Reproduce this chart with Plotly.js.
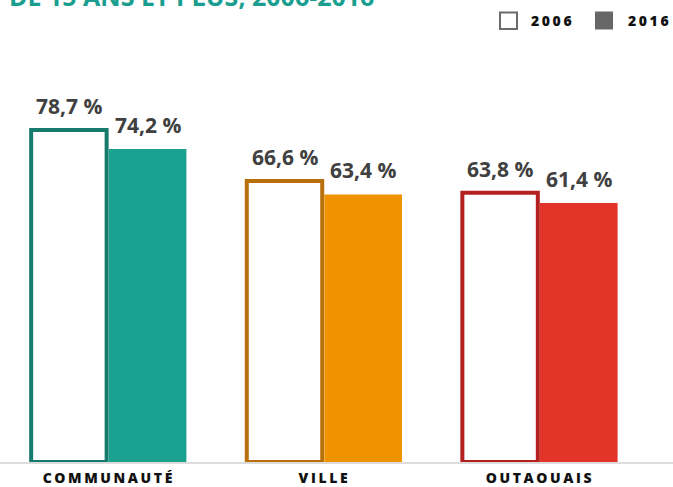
<!DOCTYPE html>
<html>
<head>
<meta charset="utf-8">
<script src="https://cdn.plot.ly/plotly-3.0.1.min.js"></script>
<style>html,body{margin:0;padding:0;background:#fff;}#chart{width:673px;height:487px;}</style>
</head>
<body>
<div id="chart"></div>
<script>
// ---- data ----
const categories = ["COMMUNAUTÉ", "VILLE", "OUTAOUAIS"];
const seriesNames = ["2006", "2016"];
const values2006 = [78.7, 66.6, 63.8];
const values2016 = [74.2, 63.4, 61.4];
const titleText = "DE 15 ANS ET PLUS, 2006-2016";

// ---- styles ----
const outlineColors = ["#167a6d", "#b8700c", "#b3201f"];
const fillColors = ["#1aa190", "#f09300", "#e3342a"];
const labelColor = "#404040";
const xs = categories.map((c, i) => i);
const fmt = v => v.toFixed(1).replace(".", ",") + "\u00a0%";
const spaced = t => '<span style="letter-spacing:2.6px">' + t + '</span>';

const w2006 = 0.35, off2006 = -0.36, w2016 = 0.36, off2016 = 0;

const traces = [
  {
    type: "bar", name: seriesNames[0], x: xs, y: values2006,
    width: w2006, offset: off2006,
    marker: { color: "#ffffff", line: { color: outlineColors, width: 4 } },
    hoverinfo: "none"
  },
  {
    type: "bar", name: seriesNames[1], x: xs, y: values2016,
    width: w2016, offset: off2016,
    marker: { color: fillColors, line: { width: 0 } },
    hoverinfo: "none"
  }
];

const annotations = [];
values2006.forEach((v, i) => annotations.push({
  x: i + off2006 + w2006 / 2, y: v, xref: "x", yref: "y",
  text: fmt(v), showarrow: false, yanchor: "bottom", yshift: 8,
  font: { family: "Open Sans", size: 21, color: labelColor, weight: 700 }
}));
values2016.forEach((v, i) => annotations.push({
  x: i + off2016 + w2016 / 2, y: v, xref: "x", yref: "y",
  text: fmt(v), showarrow: false, yanchor: "bottom", yshift: 8,
  font: { family: "Open Sans", size: 21, color: labelColor, weight: 700 }
}));
// title (clipped at top like the reference)
annotations.push({
  x: 0, y: 1, xref: "paper", yref: "paper", xanchor: "left", yanchor: "middle",
  xshift: 7, yshift: 44, text: titleText, showarrow: false,
  font: { family: "Open Sans", size: 25, color: "#1a9e8f", weight: 700 }
});

const W = 673, H = 487, mT = 40, mB = 25;
const px = (x) => x / W;
const py = (y) => (H - mB - y) / (H - mT - mB);

// custom legend texts
annotations.push({
  x: px(529), y: py(20.5), xref: "paper", yref: "paper", text: spaced(seriesNames[0]),
  showarrow: false, xanchor: "left", yanchor: "middle",
  font: { family: "Open Sans", size: 14, color: "#111", weight: 800 }
});
annotations.push({
  x: px(626), y: py(20.5), xref: "paper", yref: "paper", text: spaced(seriesNames[1]),
  showarrow: false, xanchor: "left", yanchor: "middle",
  font: { family: "Open Sans", size: 14, color: "#111", weight: 800 }
});

const shapes = [
  { type: "rect", xref: "paper", yref: "paper", x0: px(500), x1: px(517), y0: py(12.5), y1: py(29),
    line: { color: "#6b6b6b", width: 2 }, fillcolor: "#ffffff" },
  { type: "rect", xref: "paper", yref: "paper", x0: px(595), x1: px(613), y0: py(11.5), y1: py(29.5),
    line: { width: 0 }, fillcolor: "#666666" }
];

const layout = {
  width: W, height: H,
  margin: { l: 0, r: 0, t: mT, b: mB, pad: 0 },
  paper_bgcolor: "#ffffff", plot_bgcolor: "#ffffff",
  showlegend: false,
  barmode: "group",
  xaxis: {
    range: [-0.5046, 2.617], tickvals: xs, ticktext: categories.map(spaced),
    showgrid: false, zeroline: false, showline: true, linecolor: "#dcdcdc", linewidth: 2,
    ticks: "", layer: "below traces", fixedrange: true, ticklabelstandoff: 2,
    tickfont: { family: "Open Sans", size: 14, color: "#111", weight: 800 }
  },
  yaxis: {
    range: [0, 100], visible: false, showgrid: false, zeroline: false, fixedrange: true
  },
  annotations: annotations,
  shapes: shapes,
  font: { family: "Open Sans" }
};

Plotly.newPlot("chart", traces, layout, { displayModeBar: false, staticPlot: true });
</script>
</body>
</html>
